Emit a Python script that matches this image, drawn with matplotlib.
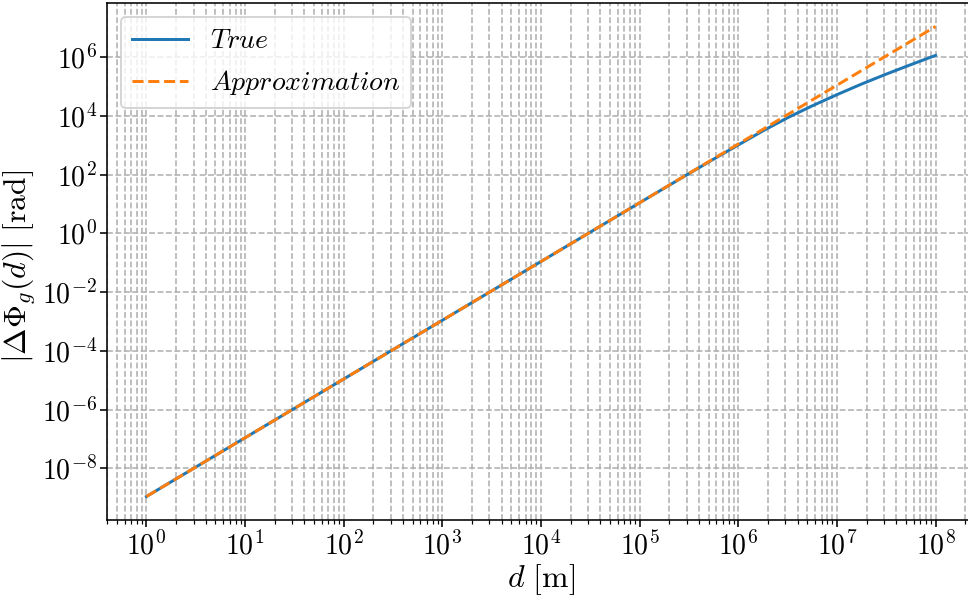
import matplotlib
matplotlib.use('Agg')
import matplotlib.pyplot as plt
import numpy as np

# latex-like look
plt.rcParams['mathtext.fontset'] = 'cm'
plt.rcParams['font.family'] = 'serif'
plt.rcParams['font.serif'] = ['cmr10', 'DejaVu Serif']
plt.rcParams['axes.formatter.use_mathtext'] = True
plt.rcParams['axes.unicode_minus'] = False
plt.rcParams['font.size'] = 14
plt.rcParams['xtick.major.pad'] = 2.5
plt.rcParams['ytick.major.pad'] = 1.5

# distance [m] and phase [rad]
d_true = [1, 1e1, 1e2, 1e3, 1e4, 1e5, 3.16e5, 5.62e5, 1e6, 1.78e6, 3.16e6,
          5.62e6, 1e7, 1.78e7, 3.16e7, 5.62e7, 1e8]
phi_true = [1.1e-9, 1.1e-7, 1.1e-5, 1.1e-3, 1.1e-1, 1.1e1, 108, 335,
            1.02e3, 3.09e3, 8.61e3, 2.19e4, 5.25e4, 1.21e5, 2.63e5, 5.53e5, 1.14e6]

d_approx = [1, 1e1, 1e2, 1e3, 1e4, 1e5, 1e6, 1e7, 1e8]
phi_approx = [1.1e-9, 1.1e-7, 1.1e-5, 1.1e-3, 1.1e-1, 1.1e1, 1.1e3, 1.1e5, 1.1e7]

fig = plt.figure(figsize=(969 / 143, 597 / 143), dpi=143)
ax = fig.add_axes([107 / 969, 77 / 597, 868 / 969, 517 / 597])

ax.loglog(d_true, phi_true, label=r'$True$')
ax.loglog(d_approx, phi_approx, '--', label=r'$Approximation$')

ax.grid(True, which='both', ls='--')
ax.set_xlabel(r'$d\ [\mathrm{m}]$', fontsize=16)
ax.set_ylabel(r'$|\Delta\Phi_g(d)|\ [\mathrm{rad}]$', fontsize=16)
ax.xaxis.set_label_coords(0.5, -0.081)
ax.yaxis.set_label_coords(-0.079, 0.49)
ax.legend(loc='upper left')

fig.savefig('out.png', dpi=143)
